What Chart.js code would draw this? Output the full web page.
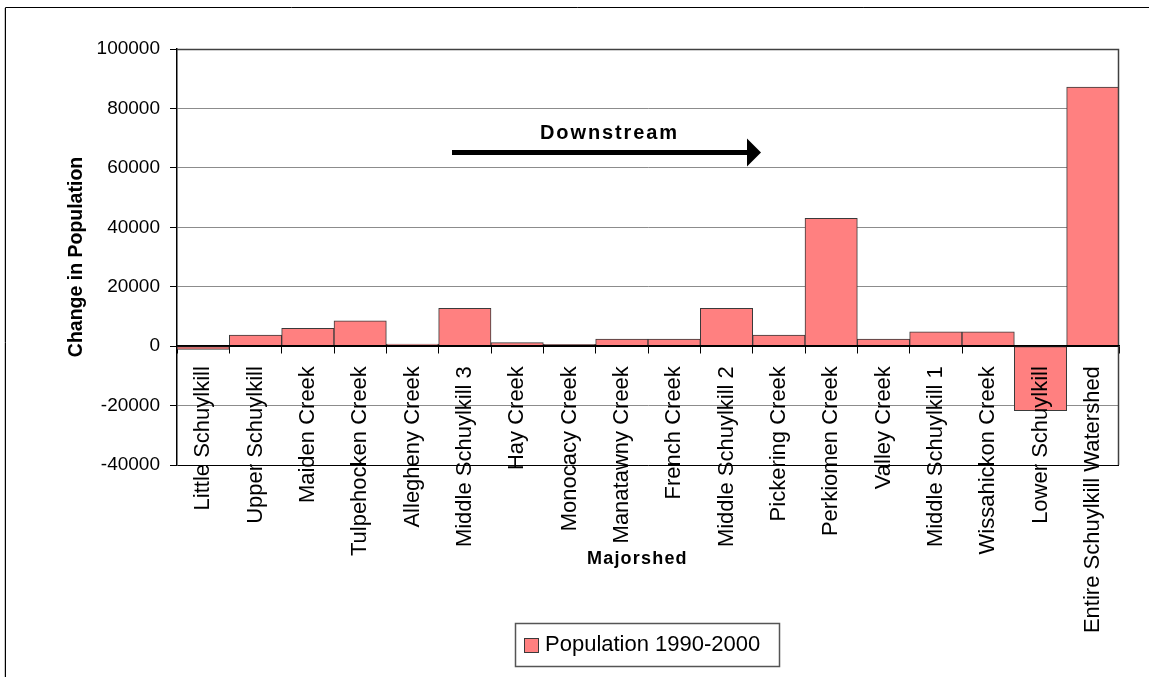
<!DOCTYPE html>
<html>
<head>
<meta charset="utf-8">
<title>Change in Population by Majorshed</title>
<script src="https://cdn.jsdelivr.net/npm/chart.js@4.4.1/dist/chart.umd.min.js"></script>
<style>
  html, body { margin: 0; padding: 0; background: #fff; }
  canvas { display: block; }
</style>
</head>
<body>
<canvas id="chart" width="1149" height="677"></canvas>
<script>
// Majorsheds, ordered from upstream to downstream, then the whole watershed
const majorsheds = [
  'Little Schuylkill', 'Upper Schuylkill', 'Maiden Creek', 'Tulpehocken Creek',
  'Allegheny Creek', 'Middle Schuylkill 3', 'Hay Creek', 'Monocacy Creek',
  'Manatawny Creek', 'French Creek', 'Middle Schuylkill 2', 'Pickering Creek',
  'Perkiomen Creek', 'Valley Creek', 'Middle Schuylkill 1', 'Wissahickon Creek',
  'Lower Schuylkill', 'Entire Schuylkill Watershed'
];

// Change in population between 1990 and 2000
const populationChange = [
  -1100, 3700, 6000, 8500,
  700, 12700, 1200, 600,
  2400, 2400, 12700, 3700,
  43000, 2400, 4800, 4800,
  -21700, 87200
];

const yTickValues = [-40000, -20000, 0, 20000, 40000, 60000, 80000, 100000];

const seriesLabel = 'Population 1990-2000';
const xAxisTitle = 'Majorshed';
const yAxisTitle = 'Change in Population';
const flowLabel = 'Downstream';

const FONT = '"Liberation Sans", Arial, Helvetica, sans-serif';
const BAR_FILL = '#FF8080';
const BAR_EDGE = '#3a3a3a';

Chart.defaults.color = '#000';
Chart.defaults.font.family = FONT;

// Page frame, plot frame, axis title, flow arrow and legend box
const decorations = {
  id: 'decorations',
  beforeDraw(chart) {
    const ctx = chart.ctx;
    ctx.save();
    ctx.fillStyle = '#fff';
    ctx.fillRect(0, 0, chart.width, chart.height);
    // outer frame (left and top edges)
    ctx.strokeStyle = '#c8c8c8';
    ctx.lineWidth = 1;
    ctx.beginPath();
    ctx.moveTo(4.5, 8); ctx.lineTo(4.5, chart.height);
    ctx.stroke();
    ctx.strokeStyle = '#000';
    ctx.beginPath();
    ctx.moveTo(5.5, chart.height); ctx.lineTo(5.5, 7.5); ctx.lineTo(chart.width, 7.5);
    ctx.stroke();
    ctx.restore();
  },
  afterDatasetsDraw(chart) {
    const ctx = chart.ctx;
    const a = chart.chartArea;
    ctx.save();
    ctx.strokeStyle = '#404040';
    ctx.lineWidth = 1.5;
    ctx.beginPath();
    ctx.moveTo(a.left, a.top + 0.5);
    ctx.lineTo(a.right - 0.5, a.top + 0.5);
    ctx.lineTo(a.right - 0.5, a.bottom);
    ctx.stroke();
    ctx.restore();
  },
  afterDraw(chart) {
    const ctx = chart.ctx;
    ctx.save();

    // category axis title
    ctx.fillStyle = '#000';
    ctx.font = 'bold 18px ' + FONT;
    ctx.textAlign = 'left';
    ctx.textBaseline = 'alphabetic';
    ctx.letterSpacing = '1.2px';
    ctx.fillText(xAxisTitle, 587, 564);

    // downstream arrow
    ctx.font = 'bold 20px ' + FONT;
    ctx.letterSpacing = '1.9px';
    ctx.fillText(flowLabel, 540, 139);
    ctx.letterSpacing = '0px';
    ctx.fillRect(452, 150, 297, 5);
    ctx.beginPath();
    ctx.moveTo(747, 138.5);
    ctx.lineTo(761, 152.5);
    ctx.lineTo(747, 166.5);
    ctx.closePath();
    ctx.fill();

    // legend
    const ds = chart.data.datasets[0];
    ctx.fillStyle = '#fff';
    ctx.fillRect(515.5, 623.5, 264, 43);
    ctx.strokeStyle = '#555';
    ctx.lineWidth = 1.5;
    ctx.strokeRect(515.5, 623.5, 264, 43);
    ctx.fillStyle = ds.backgroundColor;
    ctx.fillRect(524.5, 638, 14, 14);
    ctx.strokeStyle = BAR_EDGE;
    ctx.lineWidth = 1;
    ctx.strokeRect(524.5, 638.5, 14, 14);
    ctx.fillStyle = '#000';
    ctx.font = '22px ' + FONT;
    ctx.fillText(ds.label, 545, 651);

    ctx.restore();
  }
};

new Chart(document.getElementById('chart'), {
  type: 'bar',
  data: {
    labels: majorsheds,
    datasets: [{
      label: seriesLabel,
      data: populationChange,
      backgroundColor: BAR_FILL,
      borderColor: BAR_EDGE,
      borderWidth: 1,
      borderSkipped: false,
      barPercentage: 1,
      categoryPercentage: 1
    }]
  },
  options: {
    responsive: false,
    animation: false,
    devicePixelRatio: 1,
    layout: { padding: { left: 0, top: 49, right: 30, bottom: 212 } },
    plugins: {
      legend: { display: false },
      tooltip: { enabled: false }
    },
    scales: {
      x: {
        type: 'category',
        position: { y: 0 },
        offset: true,
        grid: {
          offset: true,
          drawOnChartArea: false,
          drawTicks: true,
          tickLength: 7,
          tickColor: '#000',
          lineWidth: 1
        },
        border: { display: true, color: '#000', width: 1.5, z: 1 },
        ticks: {
          autoSkip: false,
          maxRotation: 90,
          minRotation: 90,
          padding: 13,
          color: '#000',
          font: { size: 22 },
          z: 1
        }
      },
      y: {
        min: -40000,
        max: 100000,
        afterFit(scale) { scale.width = 177; },
        afterBuildTicks(scale) {
          scale.ticks = yTickValues.map(v => ({ value: v }));
        },
        grid: {
          color: ctx => {
            const v = ctx.tick && ctx.tick.value;
            if (v === -40000 || v === 0) return '#000';
            if (v === 100000) return '#404040';
            return '#8c8c8c';
          },
          lineWidth: 1,
          tickLength: 7,
          tickColor: '#000'
        },
        border: { display: true, color: '#000', width: 1.5 },
        ticks: {
          padding: 10,
          color: '#000',
          font: { size: 19 },
          callback: v => String(v)
        },
        title: {
          display: true,
          text: yAxisTitle,
          color: '#000',
          font: { size: 19.5, weight: 'bold' },
          padding: { top: 64.5, bottom: 0 }
        }
      }
    }
  },
  plugins: [decorations]
});
</script>
</body>
</html>
